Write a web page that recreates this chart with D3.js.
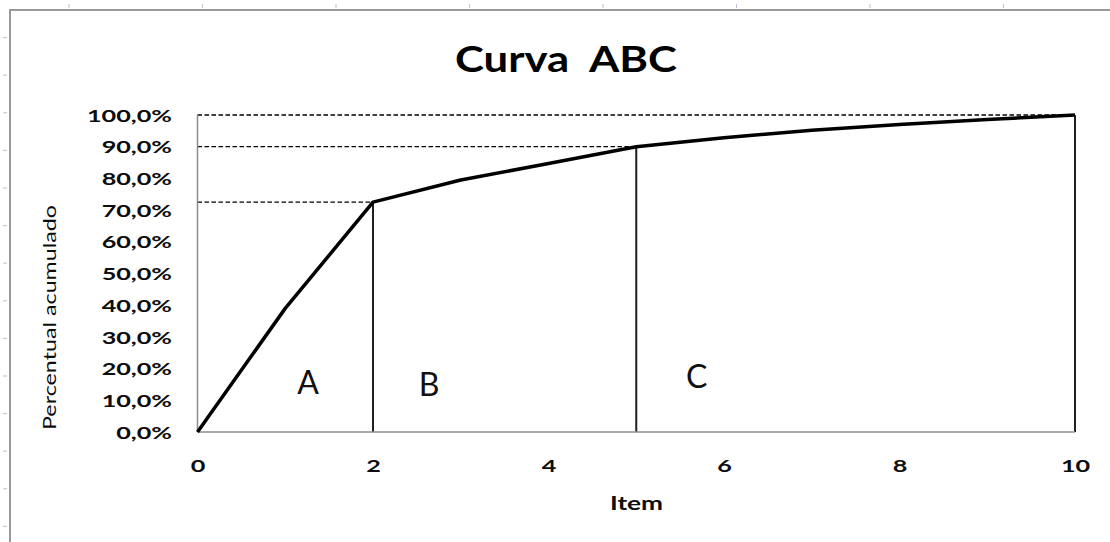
<!DOCTYPE html>
<html><head><meta charset="utf-8">
<script src="https://cdn.jsdelivr.net/npm/d3@7"></script>
<style>html,body{margin:0;padding:0;background:#fff;overflow:hidden}</style>
</head><body><svg id="c" width="1110" height="542"></svg>
<script>
// ---- data ----
const items = [0, 1, 2, 3, 4, 5, 6, 7, 8, 9, 10];
const cumulative = [0, 0.39, 0.725, 0.795, 0.847, 0.90, 0.928, 0.952, 0.970, 0.986, 1.0];
const classNames = ["A", "B", "C"];
const classLimitItem = [2, 5, 10];
const classLimitPct = [0.725, 0.90, 1.0];
const yTicks = [0, 0.1, 0.2, 0.3, 0.4, 0.5, 0.6, 0.7, 0.8, 0.9, 1.0];
const yTickLabels = ["0,0%", "10,0%", "20,0%", "30,0%", "40,0%", "50,0%", "60,0%", "70,0%", "80,0%", "90,0%", "100,0%"];
const xTicks = [0, 2, 4, 6, 8, 10];
const xTickLabels = ["0", "2", "4", "6", "8", "10"];
const chartTitle = "Curva  ABC";
const xTitle = "Item";
const yTitle = "Percentual acumulado";

// ---- layout ----
const W = 1110, H = 542;
const svg = d3.select("#c");
const FONT = "Lato, 'Open Sans', sans-serif";
const x = d3.scaleLinear().domain([0, 10]).range([197.5, 1075]);
const y = d3.scaleLinear().domain([0, 1]).range([432, 115]);

// frame + decorative ruler marks
svg.append("rect").attr("width", W).attr("height", H).attr("fill", "#fff");
svg.append("path").attr("d", `M10,${H} V10 H${W}`).attr("fill", "none")
  .attr("stroke", "#9a9a9a").attr("stroke-width", 2);
svg.append("g").selectAll("line").data(d3.range(69, W, 133.5)).join("line")
  .attr("x1", d => d).attr("x2", d => d).attr("y1", 4).attr("y2", 8)
  .attr("stroke", "#b9c3d3").attr("stroke-width", 1);
svg.append("g").selectAll("line").data(d3.range(37.6, H, 37.6)).join("line")
  .attr("y1", d => d).attr("y2", d => d).attr("x1", 3).attr("x2", 7)
  .attr("stroke", "#b9c3d3").attr("stroke-width", 1);

// title
svg.append("text").text(chartTitle)
  .attr("x", 566).attr("y", 72).attr("text-anchor", "middle")
  .style("white-space", "pre")
  .attr("font-family", FONT).attr("font-weight", 700).attr("font-size", 37).attr("fill", "#000")
  .attr("textLength", 222).attr("lengthAdjust", "spacingAndGlyphs");

// dashed guides
const classes = classNames.map((n, i) => ({name: n, item: classLimitItem[i], pct: classLimitPct[i]}));
svg.append("g").selectAll("line").data(classes).join("line")
  .attr("x1", x(0)).attr("x2", d => x(d.item))
  .attr("y1", d => y(d.pct)).attr("y2", d => y(d.pct))
  .attr("stroke", "#000").attr("stroke-width", 1.3).attr("stroke-dasharray", "4.5,2.5");

// vertical class separators
svg.append("g").selectAll("line").data(classes).join("line")
  .attr("x1", d => x(d.item)).attr("x2", d => x(d.item))
  .attr("y1", y(0)).attr("y2", d => y(d.pct))
  .attr("stroke", "#1f1f1f").attr("stroke-width", 2);

// axes
const yAxis = svg.append("g").attr("transform", `translate(${x(0)},0)`)
  .call(d3.axisLeft(y).tickValues(yTicks).tickFormat((d, i) => yTickLabels[i]).tickSize(0).tickPadding(25.5));
const xAxis = svg.append("g").attr("transform", `translate(0,${y(0)})`)
  .call(d3.axisBottom(x).tickValues(xTicks).tickFormat((d, i) => xTickLabels[i]).tickSize(0));
[yAxis, xAxis].forEach(a => {
  a.select(".domain").remove();
  a.selectAll("text").attr("font-family", FONT).attr("font-weight", 700)
    .attr("font-size", 17).attr("fill", "#0d0d0d");
});
yAxis.selectAll("text").attr("dy", "0.36em");
xAxis.selectAll("text").attr("dy", 0).attr("y", 40);
// stretch tick labels uniformly
let ref = 0;
yAxis.selectAll("text").each(function (d, i) { if (yTickLabels[i] === "100,0%") ref = this.getComputedTextLength(); });
const f = 85 / ref;
svg.selectAll(".tick text").each(function () {
  const w = this.getComputedTextLength();
  d3.select(this).attr("textLength", w * f).attr("lengthAdjust", "spacingAndGlyphs");
});

svg.append("line").attr("x1", x(0)).attr("x2", x(0)).attr("y1", y(0)).attr("y2", y(1))
  .attr("stroke", "#8c8c8c").attr("stroke-width", 1.5);
svg.append("line").attr("x1", x(0)).attr("x2", x(10)).attr("y1", y(0)).attr("y2", y(0))
  .attr("stroke", "#8c8c8c").attr("stroke-width", 1.5);

// axis titles
svg.append("text").text(xTitle).attr("x", 636.5).attr("y", 510).attr("text-anchor", "middle")
  .attr("font-family", FONT).attr("font-weight", 700).attr("font-size", 19).attr("fill", "#0d0d0d")
  .attr("textLength", 53).attr("lengthAdjust", "spacingAndGlyphs");
svg.append("text").text(yTitle)
  .attr("transform", "translate(55.5,317.5) rotate(-90)").attr("text-anchor", "middle")
  .attr("font-family", FONT).attr("font-weight", 400).attr("font-size", 17).attr("fill", "#0d0d0d")
  .attr("textLength", 225).attr("lengthAdjust", "spacingAndGlyphs");

// curve
const pts = items.map((it, i) => [it, cumulative[i]]);
svg.append("path").datum(pts)
  .attr("d", d3.line().x(d => x(d[0])).y(d => y(d[1])))
  .attr("fill", "none").attr("stroke", "#000").attr("stroke-width", 3.5)
  .attr("stroke-linejoin", "round");

// class labels, placed inside each class region
const labelAt = [[1.26, 0.12], [2.64, 0.114], [5.69, 0.139]];
svg.append("g").selectAll("text").data(classes).join("text")
  .text(d => d.name)
  .attr("x", (d, i) => x(labelAt[i][0])).attr("y", (d, i) => y(labelAt[i][1]))
  .attr("text-anchor", "middle")
  .attr("font-family", FONT).attr("font-size", 32).attr("fill", "#111");
</script></body></html>
